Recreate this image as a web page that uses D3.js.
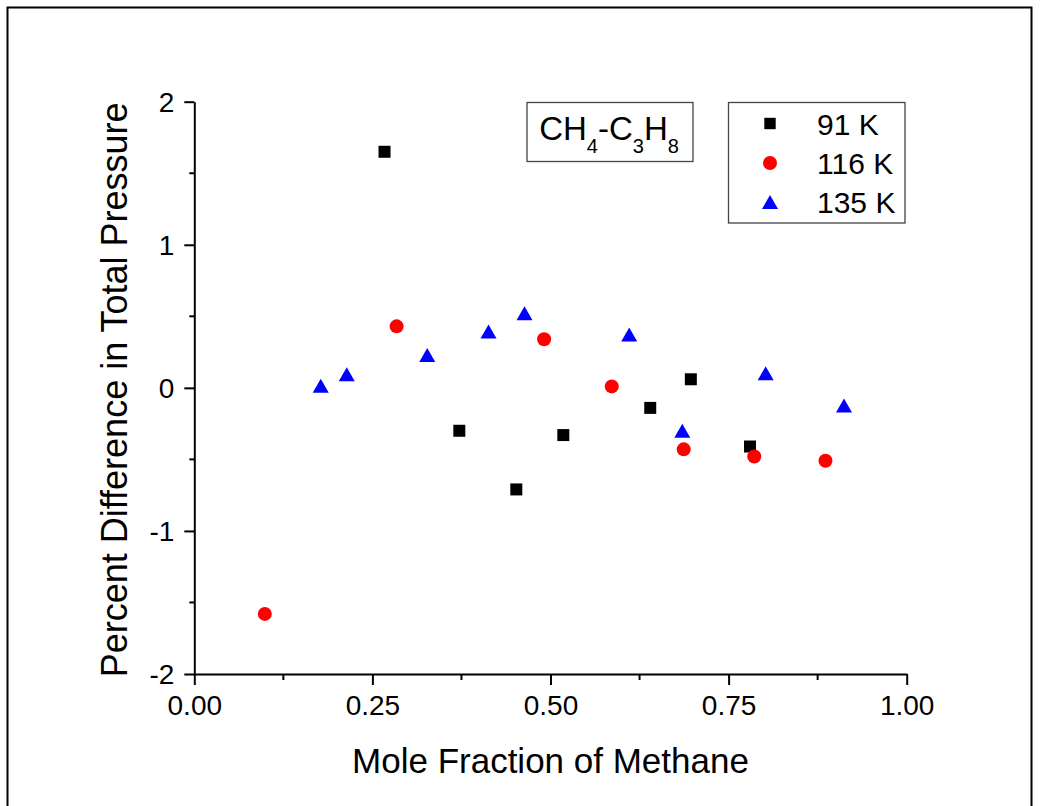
<!DOCTYPE html>
<html>
<head>
<meta charset="utf-8">
<script src="https://cdn.jsdelivr.net/npm/d3@7"></script>
<style>
  html, body { margin: 0; padding: 0; background: #fff; }
  svg { display: block; font-family: "Liberation Sans", Arial, sans-serif; }
</style>
</head>
<body>
<svg id="chart" width="1041" height="806"></svg>
<script>
// Mole fraction of methane and percent pressure difference, per temperature
const x91  = [0.267, 0.372, 0.452, 0.518, 0.640, 0.697, 0.780];
const y91  = [1.65, -0.30, -0.71, -0.33, -0.14, 0.06, -0.41];
const x116 = [0.099, 0.284, 0.491, 0.586, 0.687, 0.786, 0.886];
const y116 = [-1.58, 0.43, 0.34, 0.01, -0.43, -0.48, -0.51];
const x135 = [0.1775, 0.214, 0.327, 0.413, 0.4635, 0.6105, 0.685, 0.802, 0.912];
const y135 = [0.015, 0.095, 0.230, 0.393, 0.521, 0.373, -0.299, 0.102, -0.124];

const seriesNames = ["91 K", "116 K", "135 K"];
const xTicks = [0, 0.25, 0.5, 0.75, 1.0];
const yTicks = [-2, -1, 0, 1, 2];
const xMinor = [0.125, 0.375, 0.625, 0.875];
const yMinor = [-1.5, -0.5, 0.5, 1.5];

const series = [
  { name: seriesNames[0], xs: x91,  ys: y91,  shape: "square",   color: "#000000" },
  { name: seriesNames[1], xs: x116, ys: y116, shape: "circle",   color: "#ff0000" },
  { name: seriesNames[2], xs: x135, ys: y135, shape: "triangle", color: "#0000ff" }
];

const svg = d3.select("#chart");

// page frame
svg.append("path")
  .attr("d", "M7.5,806 V7.5 H1031.5 V806")
  .attr("fill", "none").attr("stroke", "#000").attr("stroke-width", 2);

const x = d3.scaleLinear().domain([0, 1]).range([194.3, 906.7]);
const y = d3.scaleLinear().domain([-2, 2]).range([674, 101.7]);

// marker path builders (centered on 0,0)
function markerPath(shape) {
  if (shape === "square") return "M-6,-6H6V6H-6Z";
  if (shape === "circle") return "M7,0A7,7 0 1,1 -7,0A7,7 0 1,1 7,0Z";
  return "M0,-7L8,7H-8Z";
}

// axes
const xAxis = d3.axisBottom(x).tickValues(xTicks).tickFormat(d => d.toFixed(2))
  .tickSizeInner(11).tickSizeOuter(0).tickPadding(10);
const gx = svg.append("g").attr("transform", `translate(0,${y(-2)})`).call(xAxis);
const yAxis = d3.axisLeft(y).tickValues(yTicks).tickFormat(d => String(d))
  .tickSizeInner(10).tickSizeOuter(0).tickPadding(10);
const gy = svg.append("g").attr("transform", `translate(${x(0)},0)`).call(yAxis);

[gx, gy].forEach(g => {
  g.select(".domain").attr("stroke", "#000").attr("stroke-width", 2);
  g.selectAll(".tick line").attr("stroke", "#000").attr("stroke-width", 2);
  g.selectAll(".tick text").attr("fill", "#000").attr("font-size", 28)
    .attr("font-family", "Liberation Sans, Arial, sans-serif");
});
gx.selectAll(".tick text").attr("dy", "0.71em");
gy.selectAll(".tick text").attr("dy", "0.35em");

// minor ticks
svg.append("g").selectAll("line").data(xMinor).join("line")
  .attr("x1", d => x(d)).attr("x2", d => x(d))
  .attr("y1", y(-2)).attr("y2", y(-2) + 6)
  .attr("stroke", "#000").attr("stroke-width", 2);
svg.append("g").selectAll("line").data(yMinor).join("line")
  .attr("y1", d => y(d)).attr("y2", d => y(d))
  .attr("x1", x(0)).attr("x2", x(0) - 5)
  .attr("stroke", "#000").attr("stroke-width", 2);

// axis titles
svg.append("text")
  .attr("x", (x(0) + x(1)) / 2).attr("y", 773)
  .attr("text-anchor", "middle").attr("font-size", 35).attr("fill", "#000")
  .text("Mole Fraction of Methane");
svg.append("text")
  .attr("transform", `translate(127,${(y(-2) + y(2)) / 2 + 2}) rotate(-90)`)
  .attr("text-anchor", "middle").attr("font-size", 36).attr("fill", "#000")
  .text("Percent Difference in Total Pressure");

// data markers
series.forEach(s => {
  svg.append("g").selectAll("path")
    .data(s.xs.map((v, i) => [v, s.ys[i]]))
    .join("path")
    .attr("d", markerPath(s.shape))
    .attr("transform", d => `translate(${x(d[0])},${y(d[1])})`)
    .attr("fill", s.color);
});

// system label box
const sysG = svg.append("g");
sysG.append("rect")
  .attr("x", 527).attr("y", 102.5).attr("width", 166).attr("height", 59)
  .attr("fill", "#fff").attr("stroke", "#444").attr("stroke-width", 1.3);
const sysText = sysG.append("text")
  .attr("x", 609).attr("y", 140).attr("text-anchor", "middle")
  .attr("font-size", 33).attr("fill", "#000");
const parts = [["CH", false], ["4", true], ["-C", false], ["3", true], ["H", false], ["8", true]];
let shifted = false;
parts.forEach(([t, sub]) => {
  const ts = sysText.append("tspan").text(t);
  if (sub) { ts.attr("font-size", 20).attr("dy", shifted ? 0 : 13); shifted = true; }
  else { ts.attr("dy", shifted ? -13 : 0); shifted = false; }
});

// legend
const leg = svg.append("g");
leg.append("rect")
  .attr("x", 728.5).attr("y", 102.5).attr("width", 176.5).attr("height", 120.5)
  .attr("fill", "#fff").attr("stroke", "#444").attr("stroke-width", 1.3);
const rowY = [123.5, 163, 202];
series.forEach((s, i) => {
  leg.append("path").attr("d", markerPath(s.shape))
    .attr("transform", `translate(770,${rowY[i]})${s.shape === "square" ? " scale(0.95)" : ""}`)
    .attr("fill", s.color);
  leg.append("text").attr("x", 817).attr("y", rowY[i] + 11)
    .attr("font-size", 30).attr("fill", "#000").text(s.name);
});
</script>
</body>
</html>
